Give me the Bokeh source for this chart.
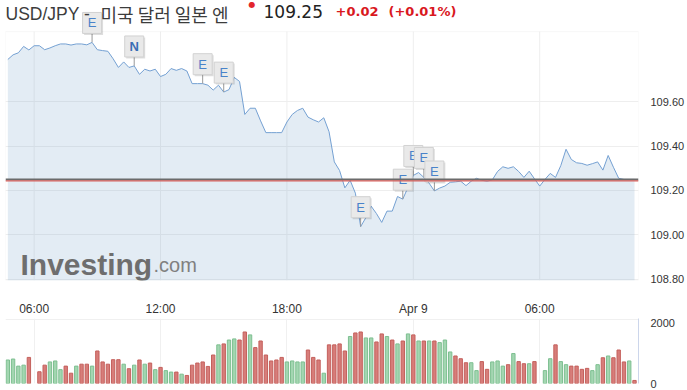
import numpy as np
from bokeh.plotting import figure
from bokeh.layouts import column
from bokeh.models import (Range1d, FixedTicker, Label, Span, BoxAnnotation,
                          NumeralTickFormatter, ColumnDataSource)
from bokeh.core.properties import value
from bokeh.embed import file_html
from bokeh.resources import INLINE

# ---------------- data ----------------
title_pair = "USD/JPY -"
title_name = "미국 달러 일본 엔"
last_price_text = "109.25"
change_text = "+0.02"
change_pct_text = "(+0.01%)"
last_price = 109.25

start_hour = 4.75      # 04:45 (8 Apr), 15-minute bars
step_hours = 0.25

price = [
    109.791, 109.812, 109.821, 109.850, 109.834, 109.853, 109.853, 109.835, 109.843, 109.853,
    109.861, 109.861, 109.856, 109.861, 109.861, 109.857, 109.868, 109.835, 109.831, 109.828,
    109.794, 109.755, 109.780, 109.755, 109.762, 109.724, 109.747, 109.739, 109.747, 109.714,
    109.724, 109.750, 109.742, 109.750, 109.739, 109.682, 109.682, 109.682, 109.675, 109.653,
    109.675, 109.644, 109.655, 109.710, 109.692, 109.543, 109.571, 109.571, 109.514, 109.461,
    109.461, 109.461, 109.461, 109.509, 109.543, 109.561, 109.571, 109.531, 109.519, 109.509,
    109.528, 109.465, 109.329, 109.290, 109.212, 109.246, 109.188, 109.037, 109.078, 109.129,
    109.096, 109.056, 109.107, 109.107, 109.173, 109.161, 109.215, 109.268, 109.281, 109.259,
    109.233, 109.198, 109.211, 109.220, 109.237, 109.239, 109.242, 109.222, 109.242, 109.255,
    109.246, 109.242, 109.248, 109.286, 109.307, 109.300, 109.307, 109.286, 109.259, 109.287,
    109.253, 109.220, 109.250, 109.277, 109.259, 109.312, 109.386, 109.340, 109.325, 109.322,
    109.314, 109.321, 109.329, 109.292, 109.358, 109.305, 109.255, 109.250, 109.250, 109.250,
]

volume = [
    730, 760, 540, 570, 810, None, 365, 570, 670, 700,
    430, 540, 320, 540, 600, 600, 540, 1010, 670, 600,
    740, 740, 600, 460, 570, 730, 600, 635, 430, 500,
    400, 355, 355, 290, 250, 570, 635, 670, 530, 885,
    1200, 1230, 1350, 1385, 1350, 1600, 1510, 1115, 1320, 885,
    700, 730, 810, 670, 700, 670, 670, 1040, 810, 730,
    320, 1200, 1200, 1230, 1010, 1460, 1570, 1600, 1415, 1415,
    1290, 1540, 1460, 1350, 1230, 1320, 1540, 1510, 1320, 1320,
    1320, 1320, 1270, 1350, 980, 855, 770, 645, 645, 400,
    680, 440, 670, 700, 540, 585, 930, 680, 615, 615,
    680, None, 400, 770, 1200, 680, 585, 540, 540, 440,
    470, 400, 585, 800, 855, 800, 1040, 670, 700, 95,
]

# g = up bar, r = down bar
vol_dir = list(
    "ggggrgrrgg" "grrgrrgrrr" "rrgrgrgrgr" "ggrgrrrrrr"
    "grggrrgrrr" "rrrggggrrr" "grrrrgrrgg" "rrgrgrgrgr"
    "grgggrrrgg" "rrgggrgrrg" "rgggrggrrr" "rggrgrrrgr"
)

flag_idx = [16, 24, 37, 41, 67, 77, 75, 79, 81]
flag_txt = ["E", "N", "E", "E", "E", "E", "E", "E", "E"]

xtick_hours = [6, 12, 18, 24, 30]
xtick_labels = ["06:00", "12:00", "18:00", "Apr 9", "06:00"]
price_ticks = [108.8, 109.0, 109.2, 109.4, 109.6]
vol_ticks = [0, 2000]

# ---------------- derived ----------------
n = len(price)
hours = start_hour + step_hours * np.arange(n)
vol = np.array([np.nan if v is None else v for v in volume], dtype=float)

W = 687
FRAME_L = 5
FRAME_R_BORDER = 46
FRAME_W = W - FRAME_L - FRAME_R_BORDER
PRICE_FRAME_H = 288
PRICE_BOTTOM = 30

x0, x1 = hours[0] - 0.11, hours[-1] + 0.19
y_bot, y_top = 108.794, 110.057
px_per_h = FRAME_W / (x1 - x0)
px_per_unit = PRICE_FRAME_H / (y_top - y_bot)
chart_top = y_top - 32 / px_per_unit   # top of the chart box (below title row)

FONT = "Liberation Sans"
GRID = "#eeeeee"

# ---------------- price figure ----------------
p = figure(width=W, height=PRICE_FRAME_H + PRICE_BOTTOM, x_range=Range1d(x0, x1),
           y_range=Range1d(y_bot, y_top),
           output_backend="svg", toolbar_location=None, y_axis_location="right",
           min_border_left=FRAME_L, min_border_right=FRAME_R_BORDER,
           min_border_top=0, min_border_bottom=PRICE_BOTTOM, outline_line_color=None,
           background_fill_color="white", border_fill_color="white")

p.xgrid.visible = False
p.ygrid.ticker = FixedTicker(ticks=price_ticks)
p.ygrid.grid_line_color = GRID

# chart box
p.add_layout(BoxAnnotation(left=x0, right=x1, top=chart_top, bottom=y_bot,
                           fill_alpha=0, line_color="#e3e3e3", line_width=1,
                           level="underlay"))
# vertical grid inside the chart box
p.segment(x0=xtick_hours, y0=[y_bot] * len(xtick_hours), x1=xtick_hours,
          y1=[chart_top] * len(xtick_hours), line_color=GRID, line_width=1,
          level="underlay")

src = ColumnDataSource(dict(x=hours, y=price))
p.varea(x="x", y1=y_bot, y2="y", source=src, fill_color="#5b8cc0", fill_alpha=0.17)
p.line(x="x", y="y", source=src, line_color="#74a0d2", line_width=1)

# x axis
p.xaxis.ticker = FixedTicker(ticks=xtick_hours)
p.xaxis.major_label_overrides = {float(h): lab for h, lab in zip(xtick_hours, xtick_labels)}
p.xaxis.axis_line_color = None
p.xaxis.major_tick_line_color = None
p.xaxis.minor_tick_line_color = None
p.xaxis.major_label_standoff = 15
p.xaxis.major_label_text_font = FONT
p.xaxis.major_label_text_font_size = "12px"
p.xaxis.major_label_text_color = "#333333"

# y axis (right)
p.yaxis.ticker = FixedTicker(ticks=price_ticks)
p.yaxis.formatter = NumeralTickFormatter(format="0.00")
p.yaxis.axis_line_color = None
p.yaxis.major_tick_line_color = None
p.yaxis.minor_tick_line_color = None
p.yaxis.major_label_standoff = 6
p.yaxis.major_label_text_font = FONT
p.yaxis.major_label_text_font_size = "11px"
p.yaxis.major_label_text_color = "#333333"

# current price lines
p.add_layout(Span(location=last_price, dimension="width", line_color="#6b6b6b", line_width=2))
p.add_layout(Span(location=last_price - 1.6 / px_per_unit, dimension="width",
                  line_color="#d9605c", line_width=1.2))
p.add_layout(Label(x=FRAME_W, x_units="screen", y=last_price, y_units="data",
                   text=last_price_text, text_color="white", text_font=FONT,
                   text_font_size="11px", text_baseline="middle", text_align="left",
                   background_fill_color="#262626", padding=2))

# event flags
off = 20 / px_per_unit
for i, t in zip(flag_idx, flag_txt):
    fx, fy = hours[i], price[i]
    fs = ColumnDataSource(dict(x=[fx], y=[fy], yb=[fy + off],
                               xs=[fx + 1.5 / px_per_h], ys=[fy + off - 1.5 / px_per_unit],
                               t=[t]))
    p.segment(x0="x", y0="y", x1="x", y1="yb", source=fs, line_color="#999999", line_width=1)
    p.rect(x="xs", y="ys", width=19, height=21, width_units="screen", height_units="screen",
           source=fs, fill_color="#000000", fill_alpha=0.13, line_color=None)
    p.rect(x="x", y="yb", width=19, height=21, width_units="screen", height_units="screen",
           source=fs, fill_color="#e9e9e9", line_color="#d2d2d2", line_width=1)
    p.text(x="x", y="yb", text="t", source=fs, text_align="center", text_baseline="middle",
           text_font=value(FONT), text_font_size="13px",
           text_font_style="bold" if t == "N" else "normal",
           text_color="#3a6fb5" if t == "N" else "#4a83c9")

# watermark
p.add_layout(Label(x=15, y=16, x_units="screen", y_units="screen", text="Investing",
                   text_font=FONT, text_font_size="30px", text_font_style="bold",
                   text_color="#6e6e6e", text_baseline="alphabetic"))
p.add_layout(Label(x=148, y=16, x_units="screen", y_units="screen", text=".com",
                   text_font=FONT, text_font_size="20px", text_color="#808080",
                   text_baseline="alphabetic"))

# title row
base_y = PRICE_FRAME_H
p.add_layout(Label(x=0, y=base_y - 21, x_units="screen", y_units="screen", text=title_pair,
                   text_font=FONT, text_font_size="17.5px", text_color="#3c3c3c",
                   text_baseline="alphabetic"))
p.add_layout(Label(x=95, y=base_y - 21, x_units="screen", y_units="screen", text=title_name,
                   text_font="Noto Sans CJK KR", text_font_size="18px", text_color="#3c3c3c",
                   text_baseline="alphabetic"))
p.add_layout(Label(x=246.5, y=base_y - 11.5, x_units="screen", y_units="screen", text="●",
                   text_font="DejaVu Sans", text_font_size="8px", text_color="#e3262d",
                   text_baseline="middle", text_align="center"))
p.add_layout(Label(x=258, y=base_y - 18.5, x_units="screen", y_units="screen",
                   text=last_price_text, text_font="DejaVu Sans", text_font_size="17px",
                   text_color="#222222", text_baseline="alphabetic"))
p.add_layout(Label(x=330, y=base_y - 18.5, x_units="screen", y_units="screen",
                   text=change_text, text_font="DejaVu Sans", text_font_size="13px",
                   text_font_style="bold", text_color="#d9181e", text_baseline="alphabetic"))
p.add_layout(Label(x=383, y=base_y - 18.5, x_units="screen", y_units="screen",
                   text=change_pct_text, text_font="DejaVu Sans", text_font_size="13px",
                   text_font_style="bold", text_color="#d9181e", text_baseline="alphabetic"))

# ---------------- volume figure ----------------
VOL_H = 390 - (PRICE_FRAME_H + PRICE_BOTTOM)
VOL_BOTTOM = 7
VOL_FRAME_H = VOL_H - VOL_BOTTOM
v_top = VOL_FRAME_H / 0.0322
q = figure(width=W, height=VOL_H, x_range=p.x_range, y_range=Range1d(0, v_top),
           output_backend="svg", toolbar_location=None, y_axis_location="right",
           x_axis_location=None, min_border_left=FRAME_L, min_border_right=FRAME_R_BORDER,
           min_border_top=0, min_border_bottom=VOL_BOTTOM, outline_line_color=None,
           background_fill_color="white", border_fill_color="white")
q.xgrid.ticker = FixedTicker(ticks=xtick_hours)
q.xgrid.grid_line_color = "#f0f0f0"
q.ygrid.ticker = FixedTicker(ticks=vol_ticks)
q.ygrid.grid_line_color = "#f0f0f0"

fills = ["#a3d6b1" if d == "g" else "#d77d7a" for d in vol_dir]
lines = ["#7dbf90" if d == "g" else "#c4605c" for d in vol_dir]
vsrc = ColumnDataSource(dict(x=hours, top=vol, fc=fills, lc=lines))
q.vbar(x="x", top="top", bottom=0, width=0.16, source=vsrc,
       fill_color="fc", line_color="lc", line_width=1)

q.yaxis.ticker = FixedTicker(ticks=vol_ticks)
q.yaxis.formatter = NumeralTickFormatter(format="0")
q.yaxis.axis_line_color = "#ccd6eb"
q.yaxis.major_tick_line_color = None
q.yaxis.minor_tick_line_color = None
q.yaxis.major_label_standoff = 6
q.yaxis.major_label_text_font = FONT
q.yaxis.major_label_text_font_size = "11px"
q.yaxis.major_label_text_color = "#333333"

layout = column(p, q, spacing=0)
open("out.html", "w").write(file_html(layout, INLINE))
